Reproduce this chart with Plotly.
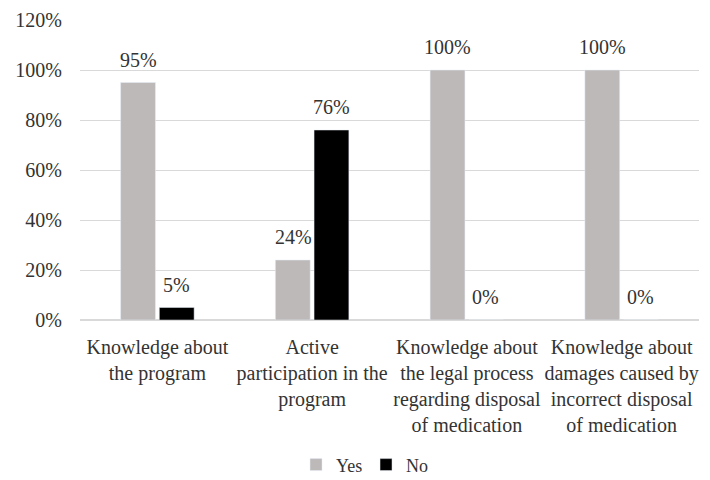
import plotly.graph_objects as go

categories = ["Knowledge about<br>the program",
              "Active<br>participation in the<br>program",
              "Knowledge about<br>the legal process<br>regarding disposal<br>of medication",
              "Knowledge about<br>damages caused by<br>incorrect disposal<br>of medication"]
yes_vals = [0.95, 0.24, 1.00, 1.00]
no_vals = [0.05, 0.76, 0.00, 0.00]

font = "'Liberation Serif', 'Times New Roman', serif"
txt = "#333333"

fig = go.Figure()
fig.add_trace(go.Bar(name="Yes", x=categories, y=yes_vals, marker_color="#bdb9b9"))
fig.add_trace(go.Bar(name="No", x=categories, y=no_vals, marker_color="#000000"))

for vals, shift in ((yes_vals, -19), (no_vals, 19)):
    for c, v in zip(categories, vals):
        fig.add_annotation(x=c, y=v, xref="x", yref="y", text=f"{v:.0%}",
                           showarrow=False, xshift=shift, yshift=23,
                           yanchor="middle", font=dict(family=font, size=20, color=txt))

# page has an 8px body margin, so the figure is sized 702x472
fig.update_layout(
    width=702, height=472,
    margin=dict(l=72, r=11, t=12, b=160),
    barmode="group", bargap=0.5, bargroupgap=0.1,
    plot_bgcolor="white", paper_bgcolor="white",
    font=dict(family=font, size=20, color=txt),
    showlegend=True,
    legend=dict(orientation="h", xref="container", yref="container",
                x=0.51, xanchor="center", y=0.032, yanchor="middle",
                font=dict(size=18), entrywidth=25, itemclick=False),
)
fig.update_yaxes(range=[0, 1.2], dtick=0.2, tickformat=".0%", showgrid=True,
                 gridcolor="#d9d9d9", zeroline=True, zerolinecolor="#d9d9d9",
                 tickfont=dict(size=20), ticks="", ticklabelstandoff=17, automargin=False,
                 ticklabeloverflow="allow")
fig.update_xaxes(tickfont=dict(size=20), showline=False, ticks="", tickangle=0,
                 ticklabelstandoff=13, automargin=False)

fig.write_html("out.html")
